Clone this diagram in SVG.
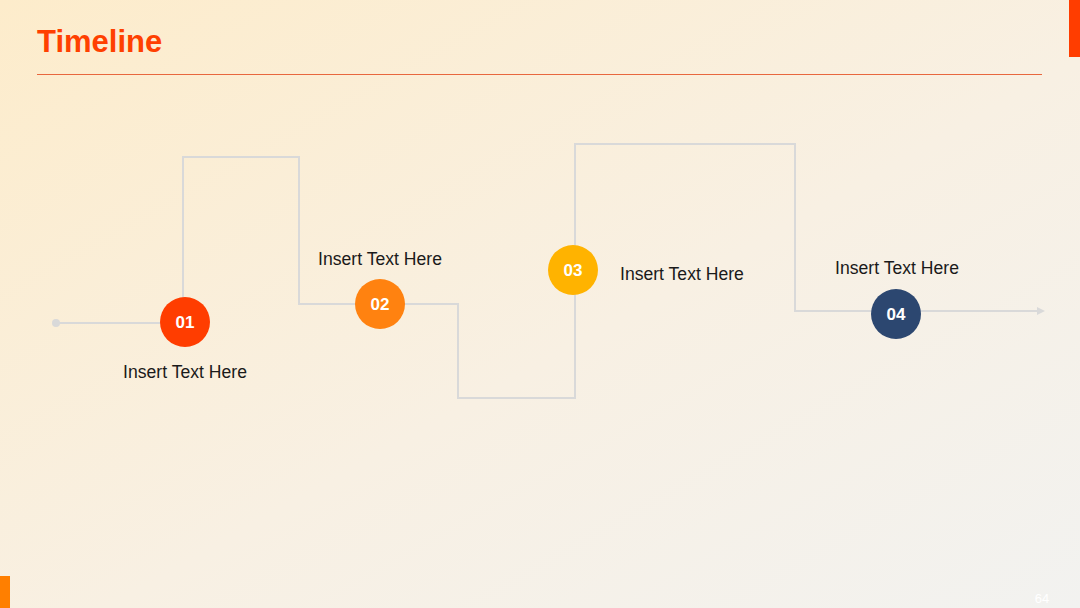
<svg xmlns="http://www.w3.org/2000/svg" width="1080" height="608" viewBox="0 0 1080 608">
<defs>
<linearGradient id="bg" x1="0" y1="0" x2="1" y2="1">
<stop offset="0" stop-color="#fdeccb"/>
<stop offset="0.55" stop-color="#f8f0e3"/>
<stop offset="1" stop-color="#f2f2f0"/>
</linearGradient>
<marker id="arr" viewBox="0 0 10 10" refX="5" refY="5" markerWidth="4" markerHeight="4" orient="auto">
<path d="M0,0 L10,5 L0,10 z" fill="#d9d9d9"/>
</marker>
<marker id="dot" viewBox="0 0 10 10" refX="5" refY="5" markerWidth="4" markerHeight="4">
<circle cx="5" cy="5" r="5" fill="#d9d9d9"/>
</marker>
</defs>
<style>
.lbl{font-family:"Liberation Sans",Arial,sans-serif;font-size:17.6px;fill:#1a1a1a}
.num{font-family:"Liberation Sans",Arial,sans-serif;font-size:17px;font-weight:bold;fill:#ffffff}
.conn{fill:none;stroke:#d9d9d9;stroke-width:2}
</style>
<rect width="1080" height="608" fill="url(#bg)"/>
<rect x="1069" y="0" width="11" height="57" fill="#ff3d00"/>
<rect x="0" y="576" width="10" height="32" fill="#ff7f00"/>
<text x="37" y="52" font-family="'Liberation Sans',Arial,sans-serif" font-size="31" font-weight="bold" fill="#ff4000">Timeline</text>
<line x1="37" y1="74.5" x2="1042" y2="74.5" stroke="#e8673e" stroke-width="1.2"/>
<text x="1042" y="603" font-family="'Liberation Sans',Arial,sans-serif" font-size="13" fill="#ffffff" text-anchor="middle">64</text>
<g id="connectors">
<path class="conn" d="M56,323 H183 V157 H299 V304 H458 V398 H575 V144 H795 V311 H1041" marker-start="url(#dot)" marker-end="url(#arr)"/>
</g>
<g id="n1">
<circle cx="185" cy="322" r="25" fill="#ff3d00"/>
<text class="num" x="185" y="328" text-anchor="middle">01</text>
<text class="lbl" x="185" y="378" text-anchor="middle">Insert Text Here</text>
</g>
<g id="n2">
<circle cx="380" cy="304" r="25" fill="#ff8210"/>
<text class="num" x="380" y="310" text-anchor="middle">02</text>
<text class="lbl" x="380" y="265" text-anchor="middle">Insert Text Here</text>
</g>
<g id="n3">
<circle cx="573" cy="270" r="25" fill="#ffb300"/>
<text class="num" x="573" y="276" text-anchor="middle">03</text>
<text class="lbl" x="620" y="280">Insert Text Here</text>
</g>
<g id="n4">
<circle cx="896" cy="314" r="25" fill="#2c4770"/>
<text class="num" x="896" y="320" text-anchor="middle">04</text>
<text class="lbl" x="897" y="274" text-anchor="middle">Insert Text Here</text>
</g>
</svg>
